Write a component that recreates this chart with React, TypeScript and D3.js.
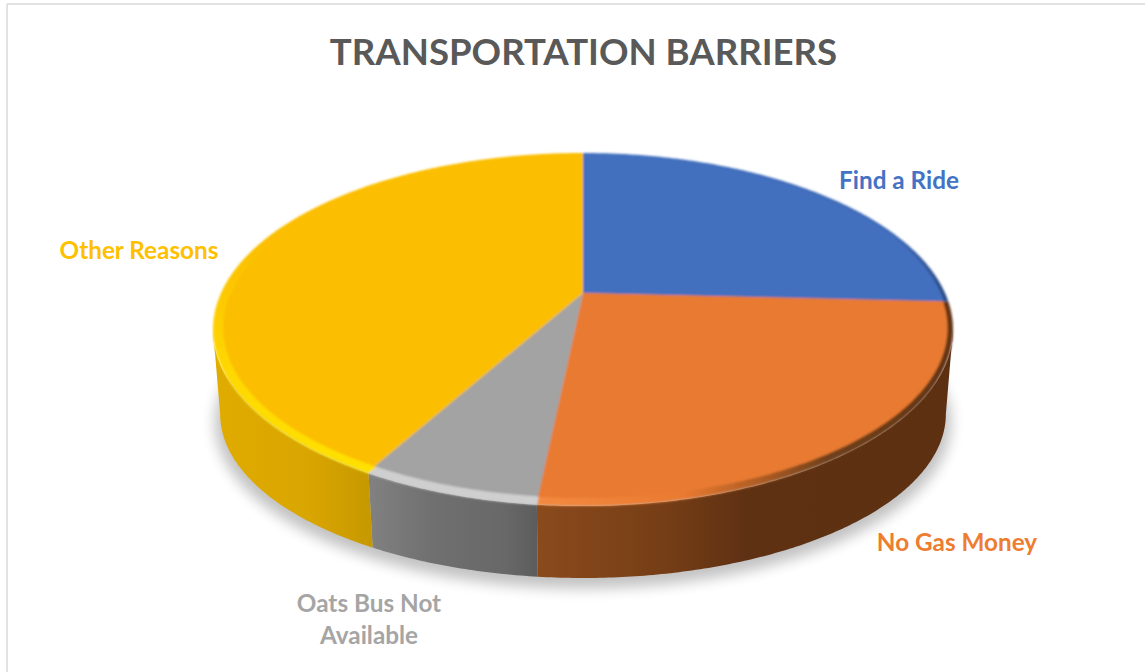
import React from 'react';
import * as d3 from 'd3';

const categories = ['Find a Ride', 'No Gas Money', 'Oats Bus Not Available', 'Other Reasons'];
const values = [8, 8, 2, 13];
const faceColors = ['#4270BF', '#E97A30', '#A3A3A3', '#FBBE00'];
const faceScale = [[0.988, 0.985], [0.985, 0.962], [0.972, 0.96], [0.972, 0.96]];
const sideStops: [number, string][][] = [
  [[0, '#2f4f88'], [1, '#2f4f88']],
  [[0, '#8A4A1C'], [0.3, '#763E16'], [0.5, '#5F3113'], [1, '#5E3012']],
  [[0, '#808080'], [0.35, '#707070'], [0.8, '#686868'], [1, '#5C5C5C']],
  [[0, '#E0AC00'], [0.6, '#D9A500'], [1, '#C69800']],
];
const rimStops: [number, string][][] = [
  [[0, '#4270BF'], [0.85, '#3F6AB6'], [1, '#28477E']],
  [[0, '#F48A40'], [0.35, '#E97A30'], [0.55, '#A85A24'], [0.7, '#70401B'], [1, '#643514']],
  [[0, '#CFCFCF'], [1, '#CFCFCF']],
  [[0, '#FBBE00'], [0.55, '#FFD800'], [1, '#FFE100']],
];
const sideExtent = [[583, 953], [538, 953], [373, 538], [213, 373]];
const rimAxis = [
  { x1: 583, y1: 0, x2: 953, y2: 0 },
  { x1: 538, y1: 0, x2: 953, y2: 0 },
  { x1: 373, y1: 0, x2: 538, y2: 0 },
  { x1: 0, y1: 240, x2: 0, y2: 480 },
];
const labelLines = [['Find a Ride'], ['No Gas Money'], ['Oats Bus Not', 'Available'], ['Other Reasons']];
const labelPos = [[899, 181], [957, 543], [369, 604], [139, 251]];
const labelColors = ['#4472C4', '#ED7D31', '#A5A5A5', '#FFC000'];
const title = 'TRANSPORTATION BARRIERS';

const W = 1145, H = 672;
const cx = 583, apexY = 293, RX = 362, RY = 169, K = 0.207;
const lowerY = 380, lowerRX = 355, lowerRY = 157;
// the wall is only visible between the two silhouette angles of the tilted disc
const wallStart = Math.acos(-K);
const wallEnd = 2 * Math.PI - wallStart;

type P = [number, number];
const proj = (a: number, y0: number, rx: number, ry: number): P => {
  const u = Math.sin(a), v = -Math.cos(a);
  const s = 1 / (1 - K * v);
  return [cx + rx * u * s, y0 + ry * v * s];
};
const samples = (a0: number, a1: number) => {
  const n = Math.max(2, Math.ceil(Math.abs(a1 - a0) / 0.01));
  return d3.range(n + 1).map((i) => a0 + ((a1 - a0) * i) / n);
};
const line = d3.line<P>().x((d) => d[0]).y((d) => d[1]);
const wedge = (a0: number, a1: number, sx: number, sy: number) =>
  line([[cx, apexY], ...samples(a0, a1).map((a) => proj(a, apexY, RX * sx, RY * sy))])! + 'Z';
const side = (a0: number, a1: number) => {
  const s = Math.max(a0, wallStart), e = Math.min(a1, wallEnd);
  if (e <= s) return '';
  return line([
    ...samples(s, e).map((a) => proj(a, apexY, RX, RY)),
    ...samples(e, s).map((a) => proj(a, lowerY, lowerRX, lowerRY)),
  ])! + 'Z';
};

const arcs = d3.pie<number>().sort(null)(values);

export default function App() {
  const shadow = line(samples(0, 2 * Math.PI).map((a) => proj(a, lowerY + 8, lowerRX + 5, lowerRY + 2)))! + 'Z';
  return (
    <svg width={W} height={H} style={{ position: 'absolute', left: 0, top: 0, background: '#fff' }}
      fontFamily="Lato, 'Open Sans', sans-serif" fontWeight={700}>
      <defs>
        <filter id="shadowBlur" x="-10%" y="-10%" width="120%" height="120%"><feGaussianBlur stdDeviation="7" /></filter>
        <filter id="soft" x="-5%" y="-5%" width="110%" height="110%"><feGaussianBlur stdDeviation="1.1" /></filter>
        {categories.map((c, i) => (
          <linearGradient key={'s' + c} id={'side' + i} gradientUnits="userSpaceOnUse"
            x1={sideExtent[i][0]} x2={sideExtent[i][1]} y1={0} y2={0}>
            {sideStops[i].map(([o, col]) => <stop key={o} offset={o} stopColor={col} />)}
          </linearGradient>
        ))}
        {categories.map((c, i) => (
          <linearGradient key={'r' + c} id={'rim' + i} gradientUnits="userSpaceOnUse" {...rimAxis[i]}>
            {rimStops[i].map(([o, col]) => <stop key={o} offset={o} stopColor={col} />)}
          </linearGradient>
        ))}
      </defs>
      <rect x={0} y={0} width={W} height={H} fill="#fff" />
      <line x1={7} y1={4} x2={W} y2={4} stroke="#D9D9D9" strokeWidth={1.5} />
      <line x1={7} y1={4} x2={7} y2={H} stroke="#D9D9D9" strokeWidth={1.5} />
      <text x={583.5} y={65} textAnchor="middle" fontSize={36.6} fill="#595959">{title}</text>

      <path d={shadow} fill="#000" opacity={0.24} filter="url(#shadowBlur)" />
      <g>
        {arcs.map((d, i) => (
          <path key={categories[i]} d={side(d.startAngle, d.endAngle)} fill={`url(#side${i})`} />
        ))}
      </g>
      <g filter="url(#soft)">
        {arcs.map((d, i) => (
          <path key={categories[i]} d={wedge(d.startAngle, d.endAngle, 1, 1)} fill={`url(#rim${i})`} />
        ))}
        {arcs.map((d, i) => (
          <path key={categories[i]} d={wedge(d.startAngle, d.endAngle, faceScale[i][0], faceScale[i][1])} fill={faceColors[i]} />
        ))}
      </g>

      {labelLines.map((ls, i) => (
        <text key={categories[i]} textAnchor="middle" fontSize={24.3} fill={labelColors[i]}>
          {ls.map((t, j) => (
            <tspan key={t} x={labelPos[i][0]} y={labelPos[i][1] + 8 + j * 32}>{t}</tspan>
          ))}
        </text>
      ))}
    </svg>
  );
}
